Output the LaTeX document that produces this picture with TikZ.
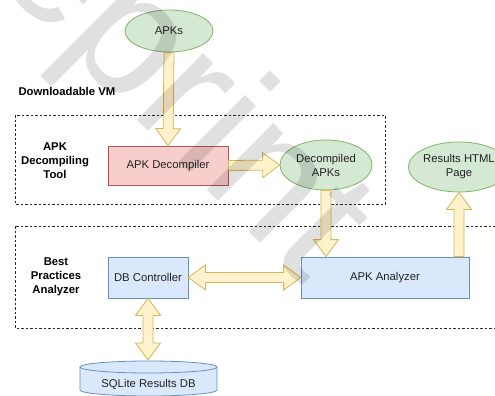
\documentclass[tikz,border=0pt]{standalone}
\usepackage{fontspec}
\setmainfont{Liberation Sans}
\usetikzlibrary{calc,shapes.geometric}

\definecolor{okfill}{HTML}{D5E8D4}
\definecolor{okline}{HTML}{82B366}
\definecolor{redfill}{HTML}{F8CECC}
\definecolor{redline}{HTML}{B85450}
\definecolor{bluefill}{HTML}{DAE8FC}
\definecolor{blueline}{HTML}{6C8EBF}
\definecolor{yelfill}{HTML}{FFF2CC}
\definecolor{yelline}{HTML}{D6B656}
\definecolor{txt}{HTML}{222222}

% one-headed block arrow from #1 to #2
\newcommand\fatarrow[2]{%
  \coordinate (fa-n) at ($(#2)!17pt!(#1)$);
  \draw[blockarrow] ($(#1)!5pt!90:(#2)$) -- ($(fa-n)!5pt!90:(#2)$)
    -- ($(fa-n)!12.5pt!90:(#2)$) -- (#2) -- ($(fa-n)!12.5pt!-90:(#2)$)
    -- ($(fa-n)!5pt!-90:(#2)$) -- ($(#1)!5pt!-90:(#2)$) -- cycle;}
% two-headed block arrow between #1 and #2
\newcommand\dblarrow[2]{%
  \coordinate (da-a) at ($(#1)!17pt!(#2)$);
  \coordinate (da-b) at ($(#2)!17pt!(#1)$);
  \draw[blockarrow] (#1) -- ($(da-a)!12.5pt!90:(#2)$) -- ($(da-a)!5pt!90:(#2)$)
    -- ($(da-b)!5pt!90:(#2)$) -- ($(da-b)!12.5pt!90:(#2)$) -- (#2)
    -- ($(da-b)!12.5pt!-90:(#2)$) -- ($(da-b)!5pt!-90:(#2)$)
    -- ($(da-a)!5pt!-90:(#2)$) -- ($(da-a)!12.5pt!-90:(#2)$) -- cycle;}

\begin{document}
\begin{tikzpicture}[x=1pt,y=-1pt,
  every node/.style={font=\fontsize{11.3}{14}\selectfont, text=txt},
  blockarrow/.style={fill=yelfill, draw=yelline, line width=0.8pt, line join=miter},
  oval/.style={ellipse, fill=okfill, draw=okline, line width=0.8pt, inner sep=0pt, align=center},
  redbox/.style={rectangle, fill=redfill, draw=redline, line width=0.8pt, inner sep=0pt},
  bluebox/.style={rectangle, fill=bluefill, draw=blueline, line width=0.8pt, inner sep=0pt},
  group/.style={draw=black!85, line width=0.6pt, dash pattern=on 2.5pt off 2pt},
  grouplabel/.style={font=\bfseries\fontsize{11.3}{14}\selectfont, align=center, text=black}]
\useasboundingbox (0,0) rectangle (495,396);
\begin{scope}
\clip (0,0) rectangle (495,396);

% grouping frames
\draw[group] (15,115) rectangle (385,204);
\draw[group] (15,226) rectangle (520,328);
\node[grouplabel, anchor=west] (vm) at (15,91) {Downloadable VM};
\node[grouplabel] (tool) at (55,161) {APK\\Decompiling\\Tool};
\node[grouplabel] (bpa) at (56,277) {Best\\Practices\\Analyzer};

% nodes
\node[oval, minimum width=88, minimum height=42] (apks) at (169,31) {APKs};
\node[redbox, minimum width=120, minimum height=39] (dec) at (168,165.5) {APK Decompiler};
\node[oval, minimum width=92, minimum height=50] (dapk) at (326,165) {Decompiled\\APKs};
\node[oval, minimum width=90, minimum height=50] (res) at (459,167) {Results HTML\\Page};
\node[bluebox, minimum width=80, minimum height=41] (dbc) at (148,277.5) {DB Controller};
\node[bluebox, minimum width=168, minimum height=41] (ana) at (385,277.5) {APK Analyzer};

% database cylinder
\draw[fill=bluefill, draw=blueline, line width=0.8pt]
  (80,367) -- (80,390) arc[start angle=180, end angle=360, x radius=68.5, y radius=-6]
  -- (217,367);
\draw[fill=bluefill, draw=blueline, line width=0.8pt] (148.5,367) ellipse[x radius=68.5, y radius=6];
\node[minimum width=137, minimum height=20, inner sep=0pt] (db) at (148.5,384) {SQLite Results DB};
\coordinate (dbtop) at (148,360);

% connectors
\fatarrow{apks.south}{dec.north}
\fatarrow{dec.east}{dapk.west}
\fatarrow{dapk.south}{dapk.south |- ana.north}
\fatarrow{ana.north -| res.south}{res.south}
\dblarrow{dbc.east}{ana.west}
\dblarrow{dbc.south}{dbtop}

% watermark
\node[anchor=base west, rotate=-45, text=black, opacity=0.12,
  font=\fontsize{178}{178}\selectfont] (wm) at (-140,-157) {Preprint};
\end{scope}
\end{tikzpicture}
\end{document}
